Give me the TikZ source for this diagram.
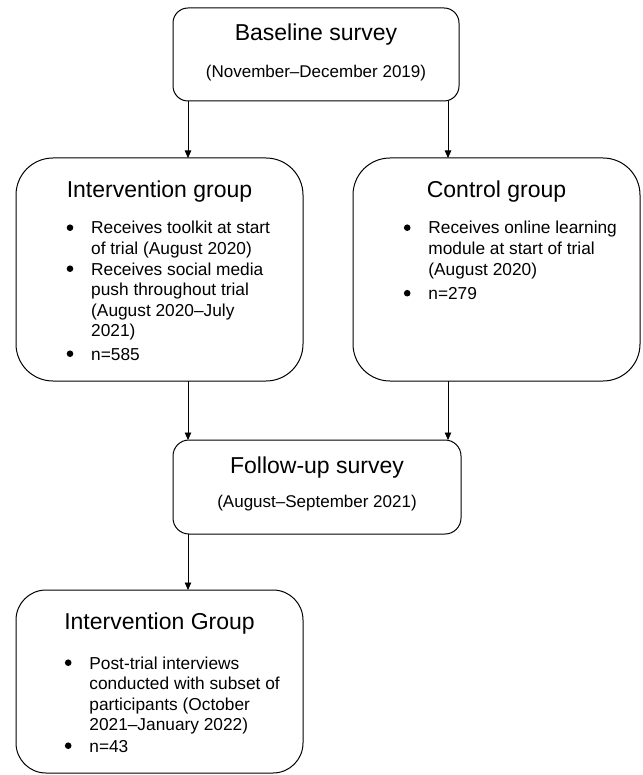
\documentclass[tikz,border=0pt]{standalone}
\usepackage{fontspec}
\setmainfont{Liberation Sans}
\usetikzlibrary{arrows.meta}
\newcommand\bul{\tikz[baseline=0pt,x=1pt,y=1pt]\fill[black] (3.3,6.3) circle (3.3);}
\newcommand\bitem{\makebox[24.5pt][l]{\bul}}
\begin{document}
\begin{tikzpicture}[x=1pt,y=-1pt,
  box/.style={draw=black, line width=1pt, inner sep=0pt, outer sep=0pt, rectangle},
  ttl/.style={font=\fontsize{23}{27}\selectfont, anchor=base, inner sep=0pt},
  sub/.style={font=\fontsize{17}{20}\selectfont, anchor=base, inner sep=0pt},
  lst/.style={font=\fontsize{17.3}{20.5}\selectfont, anchor=base west, inner sep=0pt},
  arr/.style={-{Triangle[width=6.5pt,length=7.5pt]}, line width=0.8pt}]
\useasboundingbox (0,0) rectangle (642,775);
% boxes
\node[box, minimum width=286pt, minimum height=93pt, rounded corners=15pt] (base) at (316,54.5) {};
\node[box, minimum width=287pt, minimum height=223pt, rounded corners=37pt] (ig) at (159.5,269.5) {};
\node[box, minimum width=287pt, minimum height=223pt, rounded corners=37pt] (cg) at (496.5,269.5) {};
\node[box, minimum width=288pt, minimum height=94pt, rounded corners=16pt] (fu) at (317,487) {};
\node[box, minimum width=287pt, minimum height=183pt, rounded corners=30pt] (ig2) at (159.5,681.5) {};
% texts
\node[ttl] (base-t) at (316,41) {Baseline survey};
\node[sub] (base-s) at (316,78) {(November–December 2019)};
\node[ttl] (ig-t) at (159.5,198) {Intervention group};
\node[lst] (ig-l) at (66.5,234) {\begin{tabular}[t]{@{}l@{}l@{}}
\bitem & Receives toolkit at start\\
 & of trial (August 2020)\\
\bitem & Receives social media\\
 & push throughout trial\\
 & (August 2020–July\\
 & 2021)\\[3pt]
\bitem & n=585
\end{tabular}};
\node[ttl] (cg-t) at (496.5,198) {Control group};
\node[lst] (cg-l) at (403.7,234) {\begin{tabular}[t]{@{}l@{}l@{}}
\bitem & Receives online learning\\
 & module at start of trial\\
 & (August 2020)\\[4pt]
\bitem & n=279
\end{tabular}};
\node[ttl] (fu-t) at (317,473) {Follow-up survey};
\node[sub] (fu-s) at (317,507) {(August–September 2021)};
\node[ttl] (ig2-t) at (159.5,629) {Intervention Group};
\node[lst] (ig2-l) at (64.7,669) {\begin{tabular}[t]{@{}l@{}l@{}}
\bitem & Post-trial interviews\\
 & conducted with subset of\\
 & participants (October\\
 & 2021–January 2022)\\[1pt]
\bitem & n=43
\end{tabular}};
% connectors
\coordinate (xL) at (188,0);
\coordinate (xR) at (448,0);
\draw[arr] (base.south -| xL) -- (ig.north -| xL);
\draw[arr] (base.south -| xR) -- (cg.north -| xR);
\draw[arr] (ig.south -| xL) -- (fu.north -| xL);
\draw[arr] (cg.south -| xR) -- (fu.north -| xR);
\draw[arr] (fu.south -| xL) -- (ig2.north -| xL);
\end{tikzpicture}
\end{document}
